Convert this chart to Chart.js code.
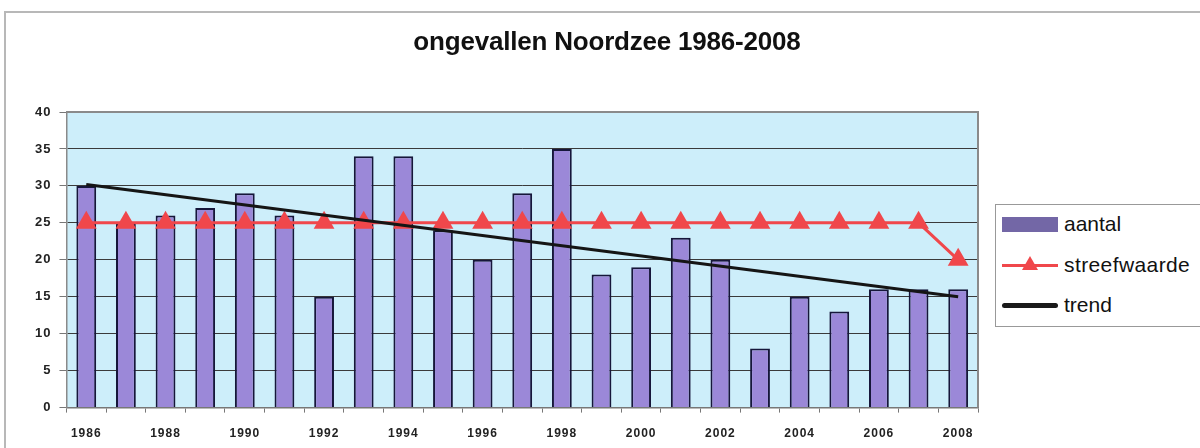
<!DOCTYPE html>
<html>
<head>
<meta charset="utf-8">
<script src="https://cdn.jsdelivr.net/npm/chart.js@4/dist/chart.umd.min.js"></script>
<style>
    body { margin: 0; background: #fff; font-family: "Liberation Sans", Arial, sans-serif; }
    #wrap { position: relative; width: 1200px; height: 448px; overflow: hidden; }
    #frame { position: absolute; left: 4px; top: 11px; width: 1300px; height: 500px;
             border-top: 2px solid #b8b8b8; border-left: 2px solid #b8b8b8; }
    #title { position: absolute; top: 26px; left: 0; width: 1214px; text-align: center;
             font-size: 26px; font-weight: bold; color: #111; letter-spacing: -0.2px; }
    #chart { position: absolute; left: 0; top: 0; }
    #legend { position: absolute; left: 995px; top: 204px; width: 220px; height: 121px;
              border: 1px solid #999; background: #fff; }
    .item { position: absolute; left: 6px; height: 24px; font-size: 21px; color: #111; }
    .item span.txt { position: absolute; left: 62px; top: 0; line-height: 24px; white-space: nowrap; }
    .sym { position: absolute; left: 0; width: 56px; }
</style>
</head>
<body>
<div id="wrap">
    <div id="frame"></div>
    <canvas id="chart" width="1200" height="462"></canvas>
    <div id="title">ongevallen Noordzee 1986-2008</div>
    <div id="legend">
        <div class="item" style="top:7px">
            <div class="sym" style="top:5px;height:15px;background:#7367a6"></div>
            <span class="txt">aantal</span>
        </div>
        <div class="item" style="top:48px">
            <div class="sym" style="top:11px;height:3px;background:#f0474b"></div>
            <div style="position:absolute;left:20px;top:3px;width:0;height:0;border-left:8px solid transparent;border-right:8px solid transparent;border-bottom:14px solid #f0474b"></div>
            <span class="txt" style="letter-spacing:0.4px">streefwaarde</span>
        </div>
        <div class="item" style="top:88px">
            <div class="sym" style="top:10px;height:5px;border-radius:3px;background:#1a1a1a"></div>
            <span class="txt">trend</span>
        </div>
    </div>
</div>
<script>
// jaren en waarden
var jaren = ['1986', '1987', '1988', '1989', '1990', '1991', '1992', '1993', '1994', '1995', '1996', '1997',
             '1998', '1999', '2000', '2001', '2002', '2003', '2004', '2005', '2006', '2007', '2008'];
var aantal = [30, 25, 26, 27, 29, 26, 15, 34, 34, 24, 20, 29, 35, 18, 19, 23, 20, 8, 15, 13, 16, 16, 16];
var streefwaarde = [25, 25, 25, 25, 25, 25, 25, 25, 25, 25, 25, 25, 25, 25, 25, 25, 25, 25, 25, 25, 25, 25, 20];
// trendlijn: alleen begin- en eindpunt
var trend = [30.2, null, null, null, null, null, null, null, null, null, null, null,
             null, null, null, null, null, null, null, null, null, null, 15];
var yTicks = [0, 5, 10, 15, 20, 25, 30, 35, 40];

// achtergrond van het plotgebied + wat letterafstand voor de ticks
var plotBg = {
    id: 'plotBg',
    beforeInit: function (chart) {
        chart.ctx.letterSpacing = '1px';
    },
    beforeDraw: function (chart) {
        var a = chart.chartArea, ctx = chart.ctx;
        ctx.letterSpacing = '1px';
        ctx.save();
        ctx.fillStyle = '#cdeefa';
        ctx.fillRect(a.left, a.top, a.right - a.left, a.bottom - a.top);
        ctx.restore();
    },
    afterDatasetsDraw: function (chart) {
        var a = chart.chartArea, ctx = chart.ctx;
        ctx.save();
        ctx.strokeStyle = '#8a8a8a';
        ctx.lineWidth = 2;
        ctx.beginPath();
        ctx.moveTo(a.left, a.top);
        ctx.lineTo(a.right, a.top);
        ctx.lineTo(a.right, a.bottom);
        ctx.stroke();
        ctx.restore();
    }
};

var ctx = document.getElementById('chart').getContext('2d');
var chart = new Chart(ctx, {
    type: 'bar',
    data: {
        labels: jaren,
        datasets: [{
            type: 'line',
            label: 'trend',
            data: trend,
            spanGaps: true,
            borderColor: '#151515',
            borderWidth: 3,
            pointRadius: 0,
            order: 1
        }, {
            type: 'line',
            label: 'streefwaarde',
            data: streefwaarde,
            borderColor: '#f0474b',
            backgroundColor: '#f0474b',
            borderWidth: 3,
            pointStyle: 'triangle',
            pointRadius: 12,
            pointBorderWidth: 0,
            order: 2
        }, {
            label: 'aantal',
            data: aantal,
            backgroundColor: '#9b88d8',
            borderColor: '#16163a',
            borderWidth: 2,
            categoryPercentage: 1,
            barPercentage: 0.5,
            order: 3
        }]
    },
    options: {
        responsive: false,
        animation: false,
        layout: { padding: { left: 29, right: 222, top: 112, bottom: 7 } },
        plugins: { legend: { display: false }, tooltip: { enabled: false } },
        scales: {
            x: {
                grid: { drawOnChartArea: false, drawTicks: true, tickLength: 5, color: '#777', offset: true },
                border: { color: '#777', width: 1.5 },
                ticks: {
                    autoSkip: false,
                    maxRotation: 0,
                    padding: 14,
                    color: '#222',
                    font: { family: 'Liberation Sans', size: 12, weight: 'bold' },
                    callback: function (v, i) { return i % 2 === 0 ? jaren[i] : ''; }
                }
            },
            y: {
                min: 0,
                max: 40,
                afterBuildTicks: function (axis) { axis.ticks = yTicks.map(function (v) { return { value: v }; }); },
                grid: { color: '#3a3a3a', lineWidth: 1, tickLength: 7, tickColor: '#777' },
                border: { color: '#8a8a8a', width: 1.5 },
                ticks: {
                    padding: 8,
                    color: '#222',
                    font: { family: 'Liberation Sans', size: 13, weight: 'bold' }
                }
            }
        }
    },
    plugins: [plotBg]
});
</script>
</body>
</html>
